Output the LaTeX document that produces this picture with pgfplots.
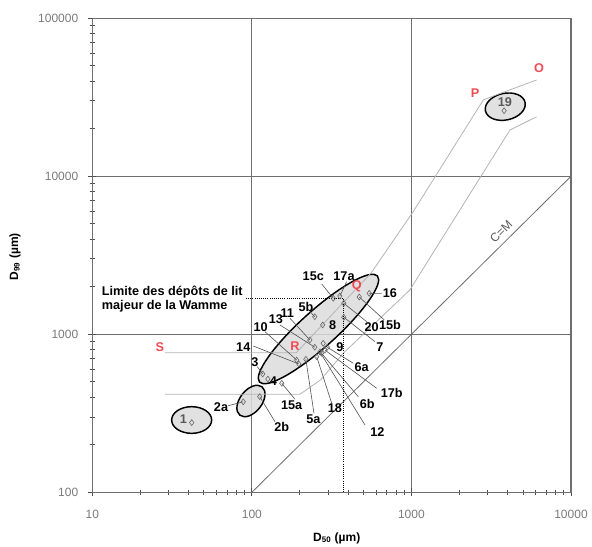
\documentclass[border=0pt]{standalone}
\usepackage{fontspec}
\setmainfont{Liberation Sans}
\usepackage{pgfplots}
\pgfplotsset{compat=1.18}
\usetikzlibrary{shapes.geometric}
\definecolor{gridc}{HTML}{6E6E6E}
\definecolor{bound}{HTML}{B4B4B4}
\definecolor{ellfill}{HTML}{DCDCDC}
\definecolor{redlab}{HTML}{F04A55}
\definecolor{tickc}{HTML}{7A7A7A}
\definecolor{leader}{HTML}{505050}
\newcommand{\lab}{\fontsize{9.5}{11}\selectfont\bfseries}
\tikzset{ell/.style={draw=black, fill=ellfill, fill opacity=0.85, draw opacity=1, line width=1.1pt, ellipse, inner sep=0pt}}
\begin{document}
\begin{tikzpicture}
\begin{axis}[
  scale only axis,
  width=359pt, height=355.5pt,
  xmode=log, ymode=log,
  xmin=10, xmax=10000, ymin=100, ymax=100000,
  xtick={10,100,1000,10000}, xticklabels={10,100,1000,10000},
  ytick={100,1000,10000,100000}, yticklabels={100,1000,10000,100000},
  tick pos=left, tick align=center,
  major tick length=6pt, minor tick length=4pt,
  every tick/.style={black!70, line width=0.6pt},
  grid=major,
  major grid style={gridc, line width=0.9pt},
  axis line style={gridc, line width=0.9pt},
  tick label style={font=\fontsize{9}{10}\selectfont, text=tickc},
  xticklabel style={anchor=center, yshift=-13.5pt},
  yticklabel style={anchor=east, xshift=-4pt},
  xlabel={\textbf{D\textsubscript{50} (µm)}},
  ylabel={\textbf{D\textsubscript{99} (µm)}},
  every axis x label/.style={at={(axis description cs:0.5106,-0.097)}, anchor=center, font=\fontsize{9}{10}\selectfont},
  every axis y label/.style={at={(axis description cs:-0.1615,0.497)}, anchor=center, rotate=90, font=\fontsize{9}{10}\selectfont},
  clip=false,
]
% ellipses
\node[ell, minimum width=30pt, minimum height=20pt] at (rel axis cs:0.2076,0.1525) {};
\node[ell, minimum width=27pt, minimum height=16.5pt, rotate=52] at (rel axis cs:0.3315,0.1926) {};
\node[ell, minimum width=119pt, minimum height=27pt, rotate=42] at (rel axis cs:0.4725,0.3445) {};
\node[ell, minimum width=30.4pt, minimum height=20pt, rotate=12] at (rel axis cs:0.8627,0.8135) {};

% C=M line
\addplot[gridc, line width=0.6pt] coordinates {(100,100) (10000,10000)};
% boundary lines
\addplot[bound, line width=0.6pt] coordinates {(28.5,765) (190,765) (560,2450) (1026,5970) (2820,30400) (3150,31800) (6090,40700)};
\addplot[bound, line width=0.6pt] coordinates {(28.5,417) (200,417) (270,515) (374,759) (977,1907) (4140,19600) (6090,23800)};
% dotted limit
\addplot[black, densely dotted, line width=0.6pt] coordinates {(92,1690) (374,1690) (374,100)};

% leader lines
\draw[leader, line width=0.45pt] (rel axis cs:0.4792,0.4395) -- (axis cs:324,1690);
\draw[leader, line width=0.45pt] (rel axis cs:0.5314,0.4443) -- (axis cs:356,1747);
\draw[leader, line width=0.45pt] (rel axis cs:0.6046,0.4198) -- (axis cs:544,1817);
\draw[leader, line width=0.45pt] (rel axis cs:0.6100,0.3635) -- (axis cs:471,1722);
\draw[leader, line width=0.45pt] (rel axis cs:0.5732,0.3599) -- (axis cs:377,1571);
\draw[leader, line width=0.45pt] (rel axis cs:0.5906,0.3177) -- (axis cs:377,1282);
\draw[leader, line width=0.45pt] (rel axis cs:0.4548,0.3810) -- (axis cs:248,1291);
\draw[leader, line width=0.45pt] (rel axis cs:0.4130,0.3671) -- (axis cs:231,921);
\draw[leader, line width=0.45pt] (rel axis cs:0.3921,0.3529) -- (axis cs:248,828);
\draw[leader, line width=0.45pt] (rel axis cs:0.3608,0.3388) -- (axis cs:191,687);
\draw[leader, line width=0.45pt] (rel axis cs:0.3363,0.3086) -- (axis cs:197,649);
\draw[leader, line width=0.45pt] (rel axis cs:0.3447,0.2650) -- (axis cs:117,561);
\draw[leader, line width=0.45pt] (rel axis cs:0.4234,0.1962) -- (axis cs:154,490);
\draw[leader, line width=0.45pt] (rel axis cs:0.2841,0.1827) -- (axis cs:88.3,374);
\draw[leader, line width=0.45pt] (rel axis cs:0.3817,0.1489) -- (axis cs:112,403);
\draw[leader, line width=0.45pt] (rel axis cs:0.4631,0.1667) -- (axis cs:218,695);
\draw[leader, line width=0.45pt] (rel axis cs:0.5001,0.1878) -- (axis cs:255,721);
\draw[leader, line width=0.45pt] (rel axis cs:0.5557,0.2017) -- (axis cs:273,759);
\draw[leader, line width=0.45pt] (rel axis cs:0.5697,0.1420) -- (axis cs:267,773);
\draw[leader, line width=0.45pt] (rel axis cs:0.5941,0.2194) -- (axis cs:287,795);
\draw[leader, line width=0.45pt] (rel axis cs:0.5452,0.2722) -- (axis cs:297,828);

% sample points
\addplot[only marks, mark=diamond, mark size=2.2pt, black!60, mark options={line width=0.45pt, fill=white}] coordinates {
(42,276) (88.3,374) (112,403) (117,561) (126,521) (154,490)
(191,687) (197,649) (218,695) (231,921) (248,828) (255,721)
(267,773) (273,759) (280,877) (287,795) (297,828)
(248,1291) (278,1146) (324,1690) (356,1747) (377,1571) (377,1282)
(471,1722) (544,1817) (3810,26000)
};

% text labels
\node[anchor=west, align=left, font=\lab, inner sep=0pt] at (rel axis cs:0.0196,0.4078) {Limite des dépôts de lit\\majeur de la Wamme};
\node[font=\lab] at (rel axis cs:0.4617,0.4549) {15c};
\node[font=\lab] at (rel axis cs:0.5258,0.4563) {17a};
\node[font=\lab] at (rel axis cs:0.6219,0.4198) {16};
\node[font=\lab] at (rel axis cs:0.6219,0.3530) {15b};
\node[font=\lab] at (rel axis cs:0.5837,0.3494) {20};
\node[font=\lab] at (rel axis cs:0.6010,0.3059) {7};
\node[font=\lab] at (rel axis cs:0.5022,0.3530) {8};
\node[font=\lab] at (rel axis cs:0.4464,0.3916) {5b};
\node[font=\lab] at (rel axis cs:0.4074,0.3776) {11};
\node[font=\lab] at (rel axis cs:0.3837,0.3650) {13};
\node[font=\lab] at (rel axis cs:0.3518,0.3494) {10};
\node[font=\lab] at (rel axis cs:0.3154,0.3059) {14};
\node[font=\lab] at (rel axis cs:0.5174,0.3072) {9};
\node[font=\lab] at (rel axis cs:0.3399,0.2755) {3};
\node[font=\lab] at (rel axis cs:0.3781,0.2348) {4};
\node[font=\lab] at (rel axis cs:0.4165,0.1842) {15a};
\node[font=\lab] at (rel axis cs:0.2689,0.1806) {2a};
\node[font=\lab] at (rel axis cs:0.3957,0.1371) {2b};
\node[font=\lab, text=black!65] at (rel axis cs:0.1901,0.1546) {1};
\node[font=\lab] at (rel axis cs:0.4617,0.1540) {5a};
\node[font=\lab] at (rel axis cs:0.5070,0.1772) {18};
\node[font=\lab] at (rel axis cs:0.5745,0.1863) {6b};
\node[font=\lab] at (rel axis cs:0.5954,0.1278) {12};
\node[font=\lab] at (rel axis cs:0.6254,0.2101) {17b};
\node[font=\lab] at (rel axis cs:0.5628,0.2650) {6a};
\node[font=\lab, text=black!65] at (rel axis cs:0.8621,0.8241) {19};
% red labels
\node[font=\lab, text=redlab] at (rel axis cs:0.1414,0.3065) {S};
\node[font=\lab, text=redlab] at (rel axis cs:0.4234,0.3086) {R};
\node[font=\lab, text=redlab] at (rel axis cs:0.5523,0.4352) {Q};
\node[font=\lab, text=redlab] at (rel axis cs:0.7995,0.8424) {P};
\node[font=\lab, text=redlab] at (rel axis cs:0.9332,0.8951) {O};
% C=M
\node[font=\fontsize{9}{10}\selectfont, text=black!65, rotate=44.7, inner sep=0pt] at (rel axis cs:0.8540,0.5500) {C=M};
\end{axis}
\pgfresetboundingbox
\path[use as bounding box] ([shift={(-69.2pt,-40.3pt)}]current axis.south west) rectangle ([shift={(15.75pt,13.7pt)}]current axis.north east);
\end{tikzpicture}
\end{document}
